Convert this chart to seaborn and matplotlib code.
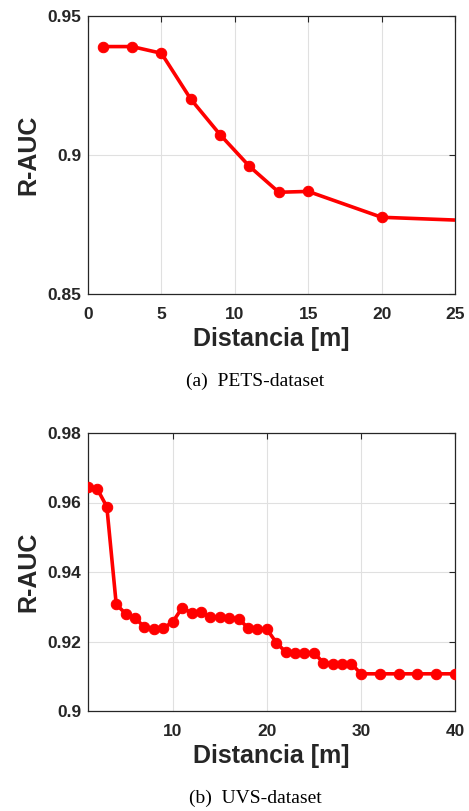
import matplotlib
matplotlib.use("Agg")
import matplotlib.pyplot as plt
import seaborn as sns
import pandas as pd

# PETS-dataset
pets_dist = [1, 3, 5, 7, 9, 11, 13, 15, 20, 30]
pets_auc = [0.9390, 0.9390, 0.9366, 0.9201, 0.9073, 0.8959, 0.8866, 0.8869, 0.8776, 0.8756]

# UVS-dataset
uvs_dist = [1, 2, 3, 4, 5, 6, 7, 8, 9, 10, 11, 12, 13, 14, 15, 16, 17, 18, 19, 20,
            21, 22, 23, 24, 25, 26, 27, 28, 29, 30, 32, 34, 36, 38, 40]
uvs_auc = [0.9644, 0.9638, 0.9588, 0.9307, 0.9280, 0.9268, 0.9241, 0.9236, 0.9239, 0.9256,
           0.9297, 0.9283, 0.9286, 0.9270, 0.9270, 0.9267, 0.9266, 0.9239, 0.9237, 0.9236,
           0.9197, 0.9170, 0.9168, 0.9168, 0.9168, 0.9139, 0.9136, 0.9136, 0.9136, 0.9107,
           0.9107, 0.9107, 0.9107, 0.9107, 0.9107]

pets_xticks = [0, 5, 10, 15, 20, 25]
pets_yticks = [0.85, 0.9, 0.95]
pets_yticklabels = ["0.85", "0.9", "0.95"]
uvs_xticks = [10, 20, 30, 40]
uvs_yticks = [0.9, 0.92, 0.94, 0.96, 0.98]
uvs_yticklabels = ["0.9", "0.92", "0.94", "0.96", "0.98"]

xlabel = "Distancia [m]"
ylabel = "R-AUC"
captions = ["(a)  PETS-dataset", "(b)  UVS-dataset"]

sns.set_theme(style="white")
plt.rcParams['font.family'] = ['Liberation Sans', 'DejaVu Sans']

W, H = 469, 811
fig = plt.figure(figsize=(W / 100, H / 100), dpi=100)
textc = "#262626"

def make_axes(top_px, bottom_px):
    return fig.add_axes([88 / W, 1 - bottom_px / H, 367 / W, (bottom_px - top_px) / H])

ax1 = make_axes(16, 294)
ax2 = make_axes(433, 711)

specs = [
    (ax1, pets_dist, pets_auc, (0, 25), (0.85, 0.95), pets_xticks, pets_yticks, pets_yticklabels),
    (ax2, uvs_dist, uvs_auc, (1, 40), (0.9, 0.98), uvs_xticks, uvs_yticks, uvs_yticklabels),
]

for ax, xs, ys, xl, yl, xt, yt, ytl in specs:
    df = pd.DataFrame({"d": xs, "auc": ys})
    sns.lineplot(data=df, x="d", y="auc", ax=ax, color="#ff0000", linewidth=2.6,
                 marker="o", markersize=7.5, markeredgecolor="#ff0000", zorder=3)
    ax.set_xlim(*xl)
    ax.set_ylim(*yl)
    ax.set_xticks(xt)
    ax.set_xticklabels([str(v) for v in xt])
    ax.set_yticks(yt)
    ax.set_yticklabels(ytl)
    ax.grid(True, color="#e0e0e0", linewidth=0.8)
    ax.set_axisbelow(True)
    for s in ax.spines.values():
        s.set_color(textc)
        s.set_linewidth(0.9)
        s.set_visible(True)
    ax.tick_params(direction="in", length=4, width=0.8, colors=textc,
                   top=True, right=True, labelsize=12.5)
    ax.tick_params(axis="x", pad=9)
    ax.tick_params(axis="y", pad=5)
    for lab in ax.get_xticklabels() + ax.get_yticklabels():
        lab.set_fontweight("bold")
    ax.set_xlabel(xlabel, fontsize=18, fontweight="bold", color=textc, labelpad=4)
    ax.set_ylabel(ylabel, fontsize=18, fontweight="bold", color=textc, labelpad=5)

fig.text(255 / W, 1 - 381 / H, captions[0], ha="center", va="center",
         fontsize=14, family=["Liberation Serif", "DejaVu Serif"], color="black")
fig.text(255 / W, 1 - 798 / H, captions[1], ha="center", va="center",
         fontsize=14, family=["Liberation Serif", "DejaVu Serif"], color="black")

fig.savefig("out.png", dpi=100)
